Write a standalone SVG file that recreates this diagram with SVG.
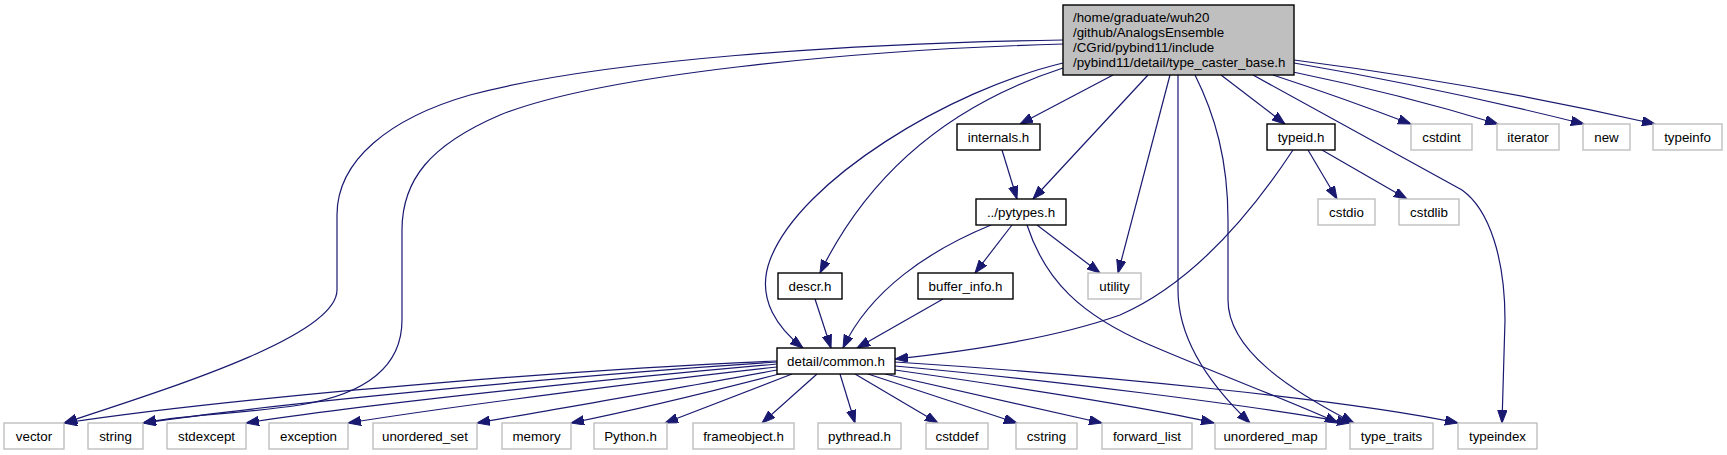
<svg xmlns="http://www.w3.org/2000/svg" width="1727" height="455" viewBox="0 0 1727 455">
<defs>
<marker id="ah" markerUnits="userSpaceOnUse" markerWidth="14" markerHeight="10" refX="13" refY="4.7" orient="auto">
<path d="M0,0 L13,4.7 L0,9.4 z" fill="#191970" stroke="#191970" stroke-width="1"/>
</marker>
</defs>
<style>
.n rect{fill:#ffffff;stroke:#000000;stroke-width:1.4}
.s rect{fill:#ffffff;stroke:#bfbfbf;stroke-width:1.4}
.m rect{fill:#bfbfbf;stroke:#000000;stroke-width:1.4}
text{font-family:"Liberation Sans",Arial,sans-serif;font-size:13.33px;fill:#000000}
.c{text-anchor:middle}
#edges path{fill:none;stroke:#191970;stroke-width:1.2;marker-end:url(#ah)}
</style>
<rect width="1727" height="455" fill="#ffffff"/>
<g id="edges">
<path d="M1063,40 C850,43 600,60 470,95 C390,118 337,160 337,215 L337,290 C337,335 180,385 64,423"/>
<path d="M1063,44 C850,50 600,75 500,115 C430,145 402,180 402,230 L402,320 C402,370 360,395 300,405 C230,415 180,415 143,423"/>
<path d="M1063,63 C950,90 800,180 770,260 C755,300 780,330 803,348"/>
<path d="M1063,68 C980,95 880,150 820,273"/>
<path d="M1113,75 L1020,124"/>
<path d="M1148,75 L1033,199"/>
<path d="M1170,75 L1118,273"/>
<path d="M1178,75 L1178,290 C1178,340 1210,385 1250,423"/>
<path d="M1195,75 C1215,115 1228,160 1228,220 L1228,300 C1228,350 1290,390 1354,423"/>
<path d="M1221,75 L1285,124"/>
<path d="M1253,75 L1462,190 C1490,210 1505,260 1505,320 L1502,423"/>
<path d="M1273,75 Q1340,97 1411,124"/>
<path d="M1293,72 Q1400,94 1498,124"/>
<path d="M1294,63 Q1440,88 1584,124"/>
<path d="M1294,60 Q1480,84 1655,124"/>
<path d="M1002,150 L1017,199"/>
<path d="M1308,150 L1337,199"/>
<path d="M1322,150 L1407,199"/>
<path d="M1293,150 C1260,200 1200,280 1120,315 C1050,340 960,352 895,359"/>
<path d="M991,225 C930,250 870,290 843,348"/>
<path d="M1012,225 L975,273"/>
<path d="M1037,225 L1100,273"/>
<path d="M1027,225 C1045,280 1080,315 1150,345 C1220,375 1300,405 1338,423"/>
<path d="M815,299 L831,348"/>
<path d="M943,299 L857,348"/>
<path d="M777,361 C600,368 250,395 64,423"/>
<path d="M777,362 C620,372 300,400 143,423"/>
<path d="M777,364 C640,376 380,402 246,423"/>
<path d="M777,367 C660,380 460,405 348,423"/>
<path d="M777,370 C700,385 560,408 477,423"/>
<path d="M783,373 Q660,405 571,423"/>
<path d="M792,374 L665,423"/>
<path d="M817,374 L762,423"/>
<path d="M840,374 L855,423"/>
<path d="M855,374 L938,423"/>
<path d="M868,374 L1017,423"/>
<path d="M885,374 Q1000,400 1102,423"/>
<path d="M895,370 C1000,385 1150,408 1214,423"/>
<path d="M895,366 C1050,380 1250,405 1350,423"/>
<path d="M895,362 C1100,375 1350,400 1458,423"/>
</g>
<g id="main" class="m"><rect x="1063" y="5" width="231" height="70"/>
<text x="1073" y="21.5">/home/graduate/wuh20</text>
<text x="1073" y="36.5">/github/AnalogsEnsemble</text>
<text x="1073" y="51.5">/CGrid/pybind11/include</text>
<text x="1073" y="66.5">/pybind11/detail/type_caster_base.h</text></g>
<g id="internals" class="n"><rect x="957" y="124" width="83" height="26"/><text class="c" x="998.5" y="141.5">internals.h</text></g>
<g id="typeid" class="n"><rect x="1267" y="124" width="68" height="26"/><text class="c" x="1301" y="141.5">typeid.h</text></g>
<g id="cstdint" class="s"><rect x="1411" y="124" width="61" height="26"/><text class="c" x="1441.5" y="141.5">cstdint</text></g>
<g id="iterator" class="s"><rect x="1497" y="124" width="62" height="26"/><text class="c" x="1528" y="141.5">iterator</text></g>
<g id="new" class="s"><rect x="1583" y="124" width="47" height="26"/><text class="c" x="1606.5" y="141.5">new</text></g>
<g id="typeinfo" class="s"><rect x="1653" y="124" width="69" height="26"/><text class="c" x="1687.5" y="141.5">typeinfo</text></g>
<g id="pytypes" class="n"><rect x="976" y="199" width="90" height="26"/><text class="c" x="1021" y="216.5">../pytypes.h</text></g>
<g id="cstdio" class="s"><rect x="1318" y="199" width="57" height="26"/><text class="c" x="1346.5" y="216.5">cstdio</text></g>
<g id="cstdlib" class="s"><rect x="1399" y="199" width="60" height="26"/><text class="c" x="1429" y="216.5">cstdlib</text></g>
<g id="descr" class="n"><rect x="778" y="273" width="64" height="26"/><text class="c" x="810" y="290.5">descr.h</text></g>
<g id="buffer_info" class="n"><rect x="918" y="273" width="95" height="26"/><text class="c" x="965.5" y="290.5">buffer_info.h</text></g>
<g id="utility" class="s"><rect x="1088" y="273" width="53" height="26"/><text class="c" x="1114.5" y="290.5">utility</text></g>
<g id="common" class="n"><rect x="777" y="348" width="118" height="26"/><text class="c" x="836" y="365.5">detail/common.h</text></g>
<g id="vector" class="s"><rect x="4" y="423" width="60" height="26"/><text class="c" x="34" y="440.5">vector</text></g>
<g id="string" class="s"><rect x="88" y="423" width="55" height="26"/><text class="c" x="115.5" y="440.5">string</text></g>
<g id="stdexcept" class="s"><rect x="167" y="423" width="79" height="26"/><text class="c" x="206.5" y="440.5">stdexcept</text></g>
<g id="exception" class="s"><rect x="269" y="423" width="79" height="26"/><text class="c" x="308.5" y="440.5">exception</text></g>
<g id="unordered_set" class="s"><rect x="373" y="423" width="104" height="26"/><text class="c" x="425" y="440.5">unordered_set</text></g>
<g id="memory" class="s"><rect x="502" y="423" width="69" height="26"/><text class="c" x="536.5" y="440.5">memory</text></g>
<g id="python" class="s"><rect x="594" y="423" width="73" height="26"/><text class="c" x="630.5" y="440.5">Python.h</text></g>
<g id="frameobject" class="s"><rect x="693" y="423" width="101" height="26"/><text class="c" x="743.5" y="440.5">frameobject.h</text></g>
<g id="pythread" class="s"><rect x="818" y="423" width="83" height="26"/><text class="c" x="859.5" y="440.5">pythread.h</text></g>
<g id="cstddef" class="s"><rect x="926" y="423" width="62" height="26"/><text class="c" x="957" y="440.5">cstddef</text></g>
<g id="cstring" class="s"><rect x="1016" y="423" width="61" height="26"/><text class="c" x="1046.5" y="440.5">cstring</text></g>
<g id="forward_list" class="s"><rect x="1102" y="423" width="90" height="26"/><text class="c" x="1147" y="440.5">forward_list</text></g>
<g id="unordered_map" class="s"><rect x="1215" y="423" width="111" height="26"/><text class="c" x="1270.5" y="440.5">unordered_map</text></g>
<g id="type_traits" class="s"><rect x="1350" y="423" width="83" height="26"/><text class="c" x="1391.5" y="440.5">type_traits</text></g>
<g id="typeindex" class="s"><rect x="1458" y="423" width="79" height="26"/><text class="c" x="1497.5" y="440.5">typeindex</text></g>
</svg>
